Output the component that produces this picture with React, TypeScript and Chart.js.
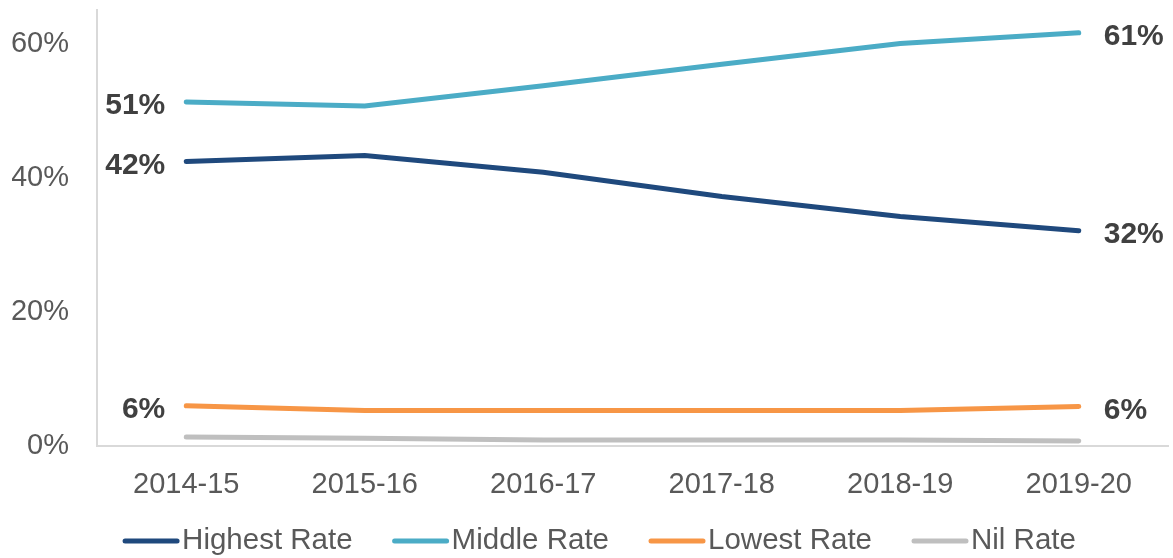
import React, { useEffect, useRef } from "react";
import { Chart, registerables } from "chart.js";

Chart.register(...registerables);

const categories = ["2014-15", "2015-16", "2016-17", "2017-18", "2018-19", "2019-20"];
const highestRate = [42.4, 43.3, 40.8, 37.2, 34.2, 32.1];
const middleRate = [51.3, 50.7, 53.7, 56.9, 60.0, 61.6];
const lowestRate = [6.0, 5.3, 5.3, 5.3, 5.3, 5.9];
const nilRate = [1.35, 1.15, 0.9, 0.9, 0.9, 0.75];
const seriesNames = ["Highest Rate", "Middle Rate", "Lowest Rate", "Nil Rate"];
const seriesColors = ["#1F497D", "#4BACC6", "#F79646", "#BFBFBF"];
const startLabels = ["42%", "51%", "6%", ""];
const endLabels = ["32%", "61%", "6%", ""];
const yTicks = [0, 20, 40, 60];

const FONT = "'Liberation Sans', Arial, sans-serif";

const endLabelPlugin = {
  id: "endLabels",
  afterDatasetsDraw(chart: any) {
    const ctx = chart.ctx;
    ctx.save();
    ctx.font = `bold 30px ${FONT}`;
    ctx.fillStyle = "#404040";
    ctx.textBaseline = "middle";
    chart.data.datasets.forEach((ds: any, i: number) => {
      const meta = chart.getDatasetMeta(i);
      const first = meta.data[0];
      const last = meta.data[meta.data.length - 1];
      if (startLabels[i]) {
        ctx.textAlign = "right";
        ctx.fillText(startLabels[i], first.x - 21, first.y + 4);
      }
      if (endLabels[i]) {
        ctx.textAlign = "left";
        ctx.fillText(endLabels[i], last.x + 25, last.y + 4);
      }
    });
    ctx.restore();
  },
};

const legendPlugin = {
  id: "customLegend",
  afterDraw(chart: any) {
    const ctx = chart.ctx;
    ctx.save();
    ctx.font = `29.5px ${FONT}`;
    const swatch = 56;
    const gapText = 3;
    const gapItem = 40;
    const widths = seriesNames.map((n) => ctx.measureText(n).width);
    const total =
      widths.reduce((a, w) => a + swatch + gapText + w, 0) + gapItem * (seriesNames.length - 1);
    let x = (chart.width - total) / 2 + 13;
    const y = 541;
    seriesNames.forEach((name, i) => {
      ctx.strokeStyle = seriesColors[i];
      ctx.lineWidth = 5;
      ctx.lineCap = "round";
      ctx.beginPath();
      ctx.moveTo(x + 2, y);
      ctx.lineTo(x + swatch - 2, y);
      ctx.stroke();
      ctx.fillStyle = "#595959";
      ctx.textAlign = "left";
      ctx.textBaseline = "middle";
      ctx.fillText(name, x + swatch + gapText, y);
      x += swatch + gapText + widths[i] + gapItem;
    });
    ctx.restore();
  },
};

export default function App() {
  const ref = useRef<HTMLCanvasElement>(null);
  useEffect(() => {
    document.body.style.margin = "0";
    const datasets = [highestRate, middleRate, lowestRate, nilRate].map((d, i) => ({
      label: seriesNames[i],
      data: d,
      borderColor: seriesColors[i],
      backgroundColor: seriesColors[i],
      borderWidth: 5,
      pointRadius: 0,
      borderCapStyle: "round" as const,
      tension: 0,
    }));
    const chart = new Chart(ref.current!, {
      type: "line",
      data: { labels: categories, datasets },
      options: {
        animation: false,
        responsive: false,
        maintainAspectRatio: false,
        layout: { padding: { left: 12, right: 5, top: 10, bottom: 0 } },
        scales: {
          x: {
            offset: true,
            grid: { display: false, drawTicks: false },
            border: { display: true, color: "#D9D9D9", width: 2 },
            ticks: { color: "#595959", font: { family: FONT, size: 29 }, padding: 22, maxRotation: 0 },
            afterFit: (axis: any) => {
              axis.height = 112;
              axis.paddingLeft = 0;
              axis.paddingRight = 0;
            },
          },
          y: {
            min: 0,
            max: 65,
            grid: { display: false, drawTicks: false },
            border: { display: true, color: "#D9D9D9", width: 2 },
            afterBuildTicks: (axis: any) => {
              axis.ticks = yTicks.map((v) => ({ value: v }));
            },
            afterFit: (axis: any) => {
              axis.width = 85;
              axis.paddingTop = 0;
              axis.paddingBottom = 0;
            },
            ticks: {
              color: "#595959",
              font: { family: FONT, size: 29 },
              padding: 28,
              callback: (v: any) => `${v}%`,
            },
          },
        },
        plugins: {
          tooltip: { enabled: false },
          legend: { display: false },
        },
      },
      plugins: [endLabelPlugin, legendPlugin],
    });
    return () => chart.destroy();
  }, []);
  return (
    <div style={{ position: "fixed", left: 0, top: 0, width: 1173, height: 558, background: "#fff" }}>
      <canvas ref={ref} width={1173} height={558} style={{ width: 1173, height: 558 }} />
    </div>
  );
}
